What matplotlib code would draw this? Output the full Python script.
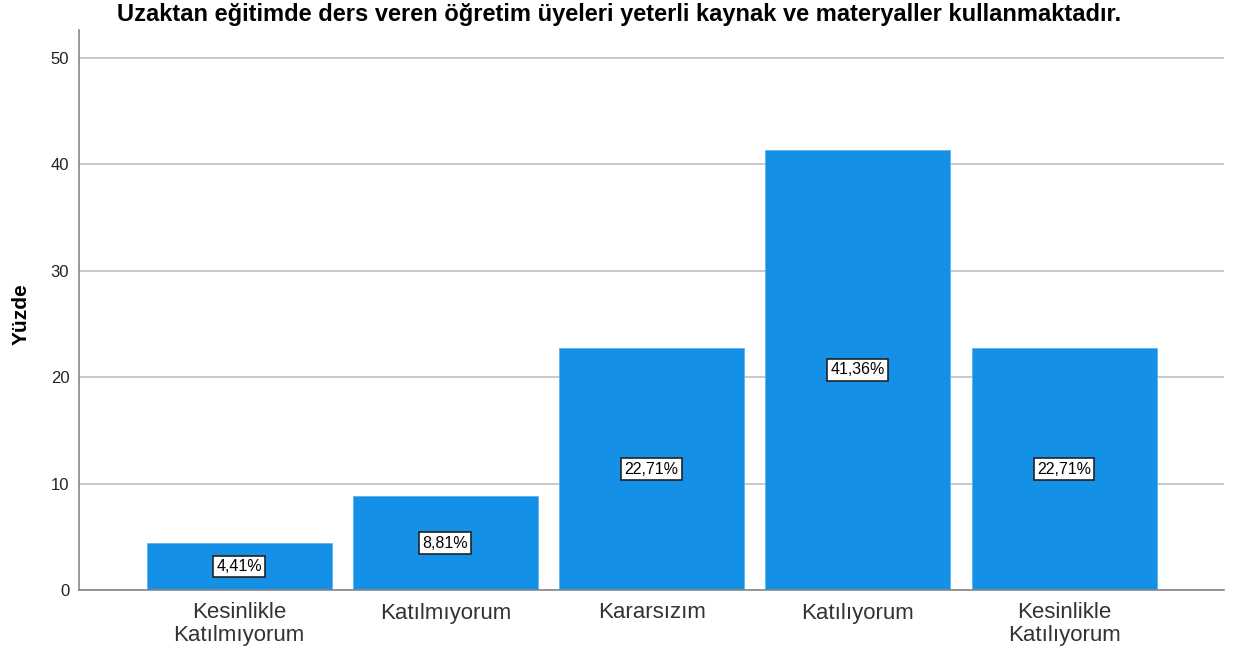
import matplotlib
matplotlib.use("Agg")
import matplotlib.pyplot as plt

categories = ["Kesinlikle\nKatılmıyorum", "Katılmıyorum", "Kararsızım", "Katılıyorum", "Kesinlikle\nKatılıyorum"]
values = [4.41, 8.81, 22.71, 41.36, 22.71]
labels = ["4,41%", "8,81%", "22,71%", "41,36%", "22,71%"]
yticks = [0, 10, 20, 30, 40, 50]
title = "Uzaktan eğitimde ders veren öğretim üyeleri yeterli kaynak ve materyaller kullanmaktadır."

plt.rcParams['font.family'] = ['Liberation Sans', 'DejaVu Sans']

fig = plt.figure(figsize=(12.38, 6.58), dpi=100)
ax = fig.add_axes([79/1238, 68/658, (1224-79)/1238, (590-30)/658])

x = list(range(len(categories)))
ax.set_axisbelow(True)
ax.yaxis.grid(True, color="#c8c8c8", linewidth=1.4)
bars = ax.bar(x, values, width=0.897, color="#1490e6", edgecolor="#5ab4f0", linewidth=0.6, zorder=2)

for xi, v, lab in zip(x, values, labels):
    ax.text(xi, v / 2, lab, ha="center", va="center", fontsize=11.5, color="black", zorder=3,
            bbox=dict(boxstyle="square,pad=0.2", facecolor="white", edgecolor="#222222", linewidth=1.2))

ax.set_xlim(-0.776, 4.775)
ax.set_ylim(0, 52.6)
ax.set_yticks(yticks)
ax.set_yticklabels([str(t) for t in yticks], fontsize=12, color="#222222")
ax.set_xticks(x)
ax.set_xticklabels(categories, fontsize=16, color="#333333", linespacing=1.1)
ax.tick_params(axis="both", length=0)
ax.tick_params(axis="y", pad=7)
ax.tick_params(axis="x", pad=9)

for s in ["top", "right"]:
    ax.spines[s].set_visible(False)
for s in ["left", "bottom"]:
    ax.spines[s].set_color("#888888")
    ax.spines[s].set_linewidth(1.2)

ax.set_ylabel("Yüzde", fontsize=15, fontweight="bold")
ax.yaxis.set_label_coords((31 - 79) / 1145, (590 - 314) / 560)
fig.text(0.5, 1 - 14/658, title, ha="center", va="center", fontsize=17, fontweight="bold")

fig.savefig("out.png", dpi=100)
